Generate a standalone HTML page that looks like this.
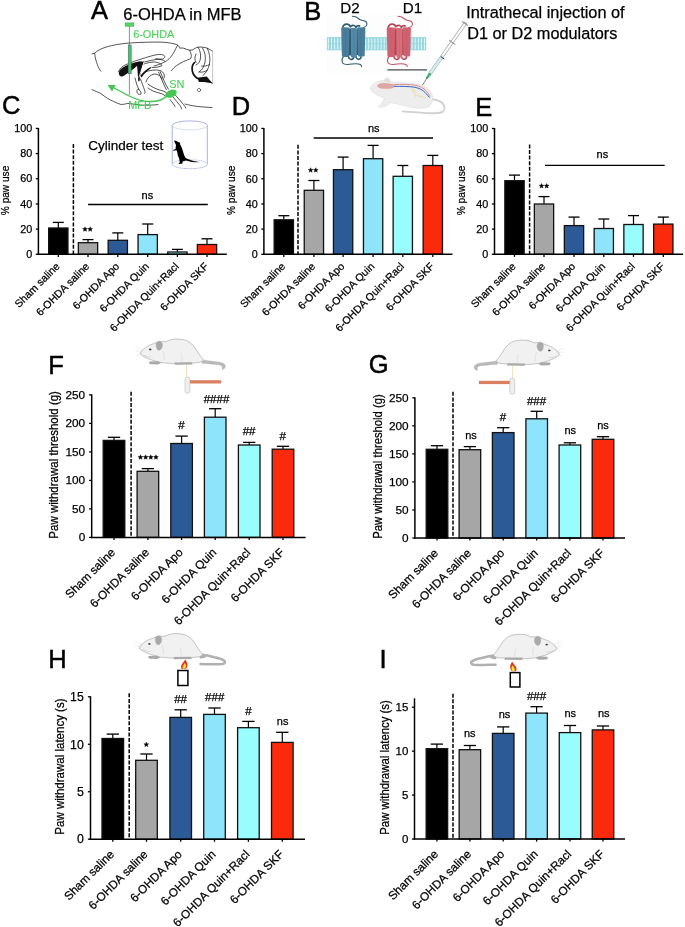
<!DOCTYPE html>
<html><head><meta charset="utf-8"><style>
html,body{margin:0;padding:0;background:#fff;overflow:hidden;}
svg{display:block;will-change:transform;}
text{font-family:"Liberation Sans", sans-serif;fill:#000;stroke:#000;stroke-width:0.25px;}
</style></head><body>
<svg width="685" height="927" viewBox="0 0 685 927">

<text x="90.90" y="19.00" font-size="25.5" style="stroke-width:0.5px">A</text>
<text x="304.30" y="19.80" font-size="25.5" style="stroke-width:0.5px">B</text>
<text x="2.10" y="113.95" font-size="25.5" style="stroke-width:0.5px">C</text>
<text x="231.80" y="114.70" font-size="25.5" style="stroke-width:0.5px">D</text>
<text x="475.30" y="115.80" font-size="25.5" style="stroke-width:0.5px">E</text>
<text x="48.30" y="373.50" font-size="25.5" style="stroke-width:0.5px">F</text>
<text x="368.80" y="373.05" font-size="25.5" style="stroke-width:0.5px">G</text>
<text x="48.20" y="668.40" font-size="25.5" style="stroke-width:0.5px">H</text>
<text x="379.45" y="668.40" font-size="25.5" style="stroke-width:0.5px">I</text>
<line x1="58.30" y1="228.00" x2="58.30" y2="222.40" stroke="#000" stroke-width="1.2"/>
<line x1="52.80" y1="222.40" x2="63.80" y2="222.40" stroke="#000" stroke-width="1.3"/>
<rect x="48.65" y="228.00" width="19.30" height="26.30" fill="#000000" stroke="#111" stroke-width="1.3"/>
<line x1="58.30" y1="254.30" x2="58.30" y2="256.90" stroke="#000" stroke-width="1.3"/>
<text x="60.30" y="267.00" transform="rotate(-45 60.30 267.00)" text-anchor="end" font-size="10.6">Sham saline</text>
<line x1="88.00" y1="242.70" x2="88.00" y2="239.60" stroke="#000" stroke-width="1.2"/>
<line x1="82.50" y1="239.60" x2="93.50" y2="239.60" stroke="#000" stroke-width="1.3"/>
<rect x="78.35" y="242.70" width="19.30" height="11.60" fill="#a6a6a6" stroke="#111" stroke-width="1.3"/>
<line x1="88.00" y1="254.30" x2="88.00" y2="256.90" stroke="#000" stroke-width="1.3"/>
<text x="90.00" y="267.00" transform="rotate(-45 90.00 267.00)" text-anchor="end" font-size="10.6">6-OHDA saline</text>
<line x1="117.80" y1="240.30" x2="117.80" y2="232.90" stroke="#000" stroke-width="1.2"/>
<line x1="112.30" y1="232.90" x2="123.30" y2="232.90" stroke="#000" stroke-width="1.3"/>
<rect x="108.15" y="240.30" width="19.30" height="14.00" fill="#2c5a96" stroke="#111" stroke-width="1.3"/>
<line x1="117.80" y1="254.30" x2="117.80" y2="256.90" stroke="#000" stroke-width="1.3"/>
<text x="119.80" y="267.00" transform="rotate(-45 119.80 267.00)" text-anchor="end" font-size="10.6">6-OHDA Apo</text>
<line x1="147.70" y1="234.60" x2="147.70" y2="224.00" stroke="#000" stroke-width="1.2"/>
<line x1="142.20" y1="224.00" x2="153.20" y2="224.00" stroke="#000" stroke-width="1.3"/>
<rect x="138.05" y="234.60" width="19.30" height="19.70" fill="#8ee4fb" stroke="#111" stroke-width="1.3"/>
<line x1="147.70" y1="254.30" x2="147.70" y2="256.90" stroke="#000" stroke-width="1.3"/>
<text x="149.70" y="267.00" transform="rotate(-45 149.70 267.00)" text-anchor="end" font-size="10.6">6-OHDA Quin</text>
<line x1="177.40" y1="252.00" x2="177.40" y2="249.40" stroke="#000" stroke-width="1.2"/>
<line x1="171.90" y1="249.40" x2="182.90" y2="249.40" stroke="#000" stroke-width="1.3"/>
<rect x="167.75" y="252.00" width="19.30" height="2.30" fill="#9afdfd" stroke="#111" stroke-width="1.3"/>
<line x1="177.40" y1="254.30" x2="177.40" y2="256.90" stroke="#000" stroke-width="1.3"/>
<text x="179.40" y="267.00" transform="rotate(-45 179.40 267.00)" text-anchor="end" font-size="10.6">6-OHDA Quin+Racl</text>
<line x1="207.00" y1="244.50" x2="207.00" y2="238.80" stroke="#000" stroke-width="1.2"/>
<line x1="201.50" y1="238.80" x2="212.50" y2="238.80" stroke="#000" stroke-width="1.3"/>
<rect x="197.35" y="244.50" width="19.30" height="9.80" fill="#fb2a0d" stroke="#111" stroke-width="1.3"/>
<line x1="207.00" y1="254.30" x2="207.00" y2="256.90" stroke="#000" stroke-width="1.3"/>
<text x="209.00" y="267.00" transform="rotate(-45 209.00 267.00)" text-anchor="end" font-size="10.6">6-OHDA SKF</text>
<line x1="38.40" y1="128.00" x2="38.40" y2="255.05" stroke="#000" stroke-width="1.5"/>
<line x1="37.65" y1="254.30" x2="226.80" y2="254.30" stroke="#000" stroke-width="1.5"/>
<line x1="35.80" y1="254.30" x2="38.40" y2="254.30" stroke="#000" stroke-width="1.3"/>
<text x="32.20" y="258.02" text-anchor="end" font-size="10.8">0</text>
<line x1="35.80" y1="229.12" x2="38.40" y2="229.12" stroke="#000" stroke-width="1.3"/>
<text x="32.20" y="232.84" text-anchor="end" font-size="10.8">20</text>
<line x1="35.80" y1="203.94" x2="38.40" y2="203.94" stroke="#000" stroke-width="1.3"/>
<text x="32.20" y="207.66" text-anchor="end" font-size="10.8">40</text>
<line x1="35.80" y1="178.76" x2="38.40" y2="178.76" stroke="#000" stroke-width="1.3"/>
<text x="32.20" y="182.48" text-anchor="end" font-size="10.8">60</text>
<line x1="35.80" y1="153.58" x2="38.40" y2="153.58" stroke="#000" stroke-width="1.3"/>
<text x="32.20" y="157.30" text-anchor="end" font-size="10.8">80</text>
<line x1="35.80" y1="128.40" x2="38.40" y2="128.40" stroke="#000" stroke-width="1.3"/>
<text x="32.20" y="132.12" text-anchor="end" font-size="10.8">100</text>
<line x1="73.40" y1="144.00" x2="73.40" y2="254.30" stroke="#000" stroke-width="1.5" stroke-dasharray="4,1.6"/>
<text x="9.10" y="190.45" transform="rotate(-90 9.10 190.45)" text-anchor="middle" font-size="10.8" textLength="49.4" lengthAdjust="spacingAndGlyphs">% paw use</text>
<polygon points="85.02,226.75 85.70,228.37 87.45,228.51 86.12,229.66 86.52,231.36 85.02,230.45 83.53,231.36 83.93,229.66 82.60,228.51 84.35,228.37" fill="#000" stroke="#000" stroke-width="0.35" stroke-linejoin="round"/>
<polygon points="90.17,226.75 90.85,228.37 92.60,228.51 91.27,229.66 91.67,231.36 90.17,230.45 88.68,231.36 89.08,229.66 87.75,228.51 89.50,228.37" fill="#000" stroke="#000" stroke-width="0.35" stroke-linejoin="round"/>
<text x="147.40" y="198.60" text-anchor="middle" font-size="11">ns</text>
<line x1="88.10" y1="204.50" x2="207.80" y2="204.50" stroke="#000" stroke-width="1.3"/>
<line x1="283.80" y1="219.80" x2="283.80" y2="215.70" stroke="#000" stroke-width="1.2"/>
<line x1="278.30" y1="215.70" x2="289.30" y2="215.70" stroke="#000" stroke-width="1.3"/>
<rect x="274.15" y="219.80" width="19.30" height="34.50" fill="#000000" stroke="#111" stroke-width="1.3"/>
<line x1="283.80" y1="254.30" x2="283.80" y2="256.90" stroke="#000" stroke-width="1.3"/>
<text x="285.80" y="267.00" transform="rotate(-45 285.80 267.00)" text-anchor="end" font-size="10.6">Sham saline</text>
<line x1="313.90" y1="190.30" x2="313.90" y2="180.50" stroke="#000" stroke-width="1.2"/>
<line x1="308.40" y1="180.50" x2="319.40" y2="180.50" stroke="#000" stroke-width="1.3"/>
<rect x="304.25" y="190.30" width="19.30" height="64.00" fill="#a6a6a6" stroke="#111" stroke-width="1.3"/>
<line x1="313.90" y1="254.30" x2="313.90" y2="256.90" stroke="#000" stroke-width="1.3"/>
<text x="315.90" y="267.00" transform="rotate(-45 315.90 267.00)" text-anchor="end" font-size="10.6">6-OHDA saline</text>
<line x1="343.10" y1="169.70" x2="343.10" y2="157.10" stroke="#000" stroke-width="1.2"/>
<line x1="337.60" y1="157.10" x2="348.60" y2="157.10" stroke="#000" stroke-width="1.3"/>
<rect x="333.45" y="169.70" width="19.30" height="84.60" fill="#2c5a96" stroke="#111" stroke-width="1.3"/>
<line x1="343.10" y1="254.30" x2="343.10" y2="256.90" stroke="#000" stroke-width="1.3"/>
<text x="345.10" y="267.00" transform="rotate(-45 345.10 267.00)" text-anchor="end" font-size="10.6">6-OHDA Apo</text>
<line x1="373.10" y1="158.70" x2="373.10" y2="145.40" stroke="#000" stroke-width="1.2"/>
<line x1="367.60" y1="145.40" x2="378.60" y2="145.40" stroke="#000" stroke-width="1.3"/>
<rect x="363.45" y="158.70" width="19.30" height="95.60" fill="#8ee4fb" stroke="#111" stroke-width="1.3"/>
<line x1="373.10" y1="254.30" x2="373.10" y2="256.90" stroke="#000" stroke-width="1.3"/>
<text x="375.10" y="267.00" transform="rotate(-45 375.10 267.00)" text-anchor="end" font-size="10.6">6-OHDA Quin</text>
<line x1="402.80" y1="176.30" x2="402.80" y2="165.50" stroke="#000" stroke-width="1.2"/>
<line x1="397.30" y1="165.50" x2="408.30" y2="165.50" stroke="#000" stroke-width="1.3"/>
<rect x="393.15" y="176.30" width="19.30" height="78.00" fill="#9afdfd" stroke="#111" stroke-width="1.3"/>
<line x1="402.80" y1="254.30" x2="402.80" y2="256.90" stroke="#000" stroke-width="1.3"/>
<text x="404.80" y="267.00" transform="rotate(-45 404.80 267.00)" text-anchor="end" font-size="10.6">6-OHDA Quin+Racl</text>
<line x1="432.80" y1="165.50" x2="432.80" y2="155.40" stroke="#000" stroke-width="1.2"/>
<line x1="427.30" y1="155.40" x2="438.30" y2="155.40" stroke="#000" stroke-width="1.3"/>
<rect x="423.15" y="165.50" width="19.30" height="88.80" fill="#fb2a0d" stroke="#111" stroke-width="1.3"/>
<line x1="432.80" y1="254.30" x2="432.80" y2="256.90" stroke="#000" stroke-width="1.3"/>
<text x="434.80" y="267.00" transform="rotate(-45 434.80 267.00)" text-anchor="end" font-size="10.6">6-OHDA SKF</text>
<line x1="263.90" y1="128.00" x2="263.90" y2="255.05" stroke="#000" stroke-width="1.5"/>
<line x1="263.15" y1="254.30" x2="452.40" y2="254.30" stroke="#000" stroke-width="1.5"/>
<line x1="261.30" y1="254.30" x2="263.90" y2="254.30" stroke="#000" stroke-width="1.3"/>
<text x="257.70" y="258.02" text-anchor="end" font-size="10.8">0</text>
<line x1="261.30" y1="229.13" x2="263.90" y2="229.13" stroke="#000" stroke-width="1.3"/>
<text x="257.70" y="232.85" text-anchor="end" font-size="10.8">20</text>
<line x1="261.30" y1="203.96" x2="263.90" y2="203.96" stroke="#000" stroke-width="1.3"/>
<text x="257.70" y="207.68" text-anchor="end" font-size="10.8">40</text>
<line x1="261.30" y1="178.79" x2="263.90" y2="178.79" stroke="#000" stroke-width="1.3"/>
<text x="257.70" y="182.51" text-anchor="end" font-size="10.8">60</text>
<line x1="261.30" y1="153.62" x2="263.90" y2="153.62" stroke="#000" stroke-width="1.3"/>
<text x="257.70" y="157.34" text-anchor="end" font-size="10.8">80</text>
<line x1="261.30" y1="128.45" x2="263.90" y2="128.45" stroke="#000" stroke-width="1.3"/>
<text x="257.70" y="132.17" text-anchor="end" font-size="10.8">100</text>
<line x1="298.00" y1="144.80" x2="298.00" y2="254.30" stroke="#000" stroke-width="1.5" stroke-dasharray="4,1.6"/>
<text x="235.10" y="190.30" transform="rotate(-90 235.10 190.30)" text-anchor="middle" font-size="10.8" textLength="49.4" lengthAdjust="spacingAndGlyphs">% paw use</text>
<polygon points="310.62,167.65 311.30,169.27 313.05,169.41 311.72,170.56 312.12,172.26 310.62,171.35 309.13,172.26 309.53,170.56 308.20,169.41 309.95,169.27" fill="#000" stroke="#000" stroke-width="0.35" stroke-linejoin="round"/>
<polygon points="315.77,167.65 316.45,169.27 318.20,169.41 316.87,170.56 317.27,172.26 315.77,171.35 314.28,172.26 314.68,170.56 313.35,169.41 315.10,169.27" fill="#000" stroke="#000" stroke-width="0.35" stroke-linejoin="round"/>
<text x="373.70" y="131.60" text-anchor="middle" font-size="11">ns</text>
<line x1="313.70" y1="138.00" x2="433.00" y2="138.00" stroke="#000" stroke-width="1.3"/>
<line x1="514.50" y1="180.70" x2="514.50" y2="175.10" stroke="#000" stroke-width="1.2"/>
<line x1="509.00" y1="175.10" x2="520.00" y2="175.10" stroke="#000" stroke-width="1.3"/>
<rect x="504.85" y="180.70" width="19.30" height="73.60" fill="#000000" stroke="#111" stroke-width="1.3"/>
<line x1="514.50" y1="254.30" x2="514.50" y2="256.90" stroke="#000" stroke-width="1.3"/>
<text x="516.50" y="267.00" transform="rotate(-45 516.50 267.00)" text-anchor="end" font-size="10.6">Sham saline</text>
<line x1="544.00" y1="204.00" x2="544.00" y2="196.60" stroke="#000" stroke-width="1.2"/>
<line x1="538.50" y1="196.60" x2="549.50" y2="196.60" stroke="#000" stroke-width="1.3"/>
<rect x="534.35" y="204.00" width="19.30" height="50.30" fill="#a6a6a6" stroke="#111" stroke-width="1.3"/>
<line x1="544.00" y1="254.30" x2="544.00" y2="256.90" stroke="#000" stroke-width="1.3"/>
<text x="546.00" y="267.00" transform="rotate(-45 546.00 267.00)" text-anchor="end" font-size="10.6">6-OHDA saline</text>
<line x1="574.00" y1="225.60" x2="574.00" y2="217.10" stroke="#000" stroke-width="1.2"/>
<line x1="568.50" y1="217.10" x2="579.50" y2="217.10" stroke="#000" stroke-width="1.3"/>
<rect x="564.35" y="225.60" width="19.30" height="28.70" fill="#2c5a96" stroke="#111" stroke-width="1.3"/>
<line x1="574.00" y1="254.30" x2="574.00" y2="256.90" stroke="#000" stroke-width="1.3"/>
<text x="576.00" y="267.00" transform="rotate(-45 576.00 267.00)" text-anchor="end" font-size="10.6">6-OHDA Apo</text>
<line x1="603.80" y1="228.50" x2="603.80" y2="219.00" stroke="#000" stroke-width="1.2"/>
<line x1="598.30" y1="219.00" x2="609.30" y2="219.00" stroke="#000" stroke-width="1.3"/>
<rect x="594.15" y="228.50" width="19.30" height="25.80" fill="#8ee4fb" stroke="#111" stroke-width="1.3"/>
<line x1="603.80" y1="254.30" x2="603.80" y2="256.90" stroke="#000" stroke-width="1.3"/>
<text x="605.80" y="267.00" transform="rotate(-45 605.80 267.00)" text-anchor="end" font-size="10.6">6-OHDA Quin</text>
<line x1="633.50" y1="224.50" x2="633.50" y2="215.60" stroke="#000" stroke-width="1.2"/>
<line x1="628.00" y1="215.60" x2="639.00" y2="215.60" stroke="#000" stroke-width="1.3"/>
<rect x="623.85" y="224.50" width="19.30" height="29.80" fill="#9afdfd" stroke="#111" stroke-width="1.3"/>
<line x1="633.50" y1="254.30" x2="633.50" y2="256.90" stroke="#000" stroke-width="1.3"/>
<text x="635.50" y="267.00" transform="rotate(-45 635.50 267.00)" text-anchor="end" font-size="10.6">6-OHDA Quin+Racl</text>
<line x1="663.30" y1="224.10" x2="663.30" y2="217.10" stroke="#000" stroke-width="1.2"/>
<line x1="657.80" y1="217.10" x2="668.80" y2="217.10" stroke="#000" stroke-width="1.3"/>
<rect x="653.65" y="224.10" width="19.30" height="30.20" fill="#fb2a0d" stroke="#111" stroke-width="1.3"/>
<line x1="663.30" y1="254.30" x2="663.30" y2="256.90" stroke="#000" stroke-width="1.3"/>
<text x="665.30" y="267.00" transform="rotate(-45 665.30 267.00)" text-anchor="end" font-size="10.6">6-OHDA SKF</text>
<line x1="494.50" y1="128.00" x2="494.50" y2="255.05" stroke="#000" stroke-width="1.5"/>
<line x1="493.75" y1="254.30" x2="683.10" y2="254.30" stroke="#000" stroke-width="1.5"/>
<line x1="491.90" y1="254.30" x2="494.50" y2="254.30" stroke="#000" stroke-width="1.3"/>
<text x="488.30" y="258.02" text-anchor="end" font-size="10.8">0</text>
<line x1="491.90" y1="229.14" x2="494.50" y2="229.14" stroke="#000" stroke-width="1.3"/>
<text x="488.30" y="232.86" text-anchor="end" font-size="10.8">20</text>
<line x1="491.90" y1="203.98" x2="494.50" y2="203.98" stroke="#000" stroke-width="1.3"/>
<text x="488.30" y="207.70" text-anchor="end" font-size="10.8">40</text>
<line x1="491.90" y1="178.82" x2="494.50" y2="178.82" stroke="#000" stroke-width="1.3"/>
<text x="488.30" y="182.54" text-anchor="end" font-size="10.8">60</text>
<line x1="491.90" y1="153.66" x2="494.50" y2="153.66" stroke="#000" stroke-width="1.3"/>
<text x="488.30" y="157.38" text-anchor="end" font-size="10.8">80</text>
<line x1="491.90" y1="128.50" x2="494.50" y2="128.50" stroke="#000" stroke-width="1.3"/>
<text x="488.30" y="132.22" text-anchor="end" font-size="10.8">100</text>
<line x1="529.60" y1="144.40" x2="529.60" y2="254.30" stroke="#000" stroke-width="1.5" stroke-dasharray="4,1.6"/>
<text x="465.10" y="190.35" transform="rotate(-90 465.10 190.35)" text-anchor="middle" font-size="10.8" textLength="49.8" lengthAdjust="spacingAndGlyphs">% paw use</text>
<polygon points="541.52,183.45 542.20,185.07 543.95,185.21 542.62,186.36 543.02,188.06 541.52,187.15 540.03,188.06 540.43,186.36 539.10,185.21 540.85,185.07" fill="#000" stroke="#000" stroke-width="0.35" stroke-linejoin="round"/>
<polygon points="546.68,183.45 547.35,185.07 549.10,185.21 547.77,186.36 548.17,188.06 546.68,187.15 545.18,188.06 545.58,186.36 544.25,185.21 546.00,185.07" fill="#000" stroke="#000" stroke-width="0.35" stroke-linejoin="round"/>
<text x="602.40" y="158.30" text-anchor="middle" font-size="11">ns</text>
<line x1="545.00" y1="165.30" x2="664.70" y2="165.30" stroke="#000" stroke-width="1.3"/>
<line x1="114.00" y1="440.40" x2="114.00" y2="437.30" stroke="#000" stroke-width="1.2"/>
<line x1="107.84" y1="437.30" x2="120.16" y2="437.30" stroke="#000" stroke-width="1.3"/>
<rect x="103.20" y="440.40" width="21.60" height="97.00" fill="#000000" stroke="#111" stroke-width="1.3"/>
<line x1="114.00" y1="537.40" x2="114.00" y2="540.00" stroke="#000" stroke-width="1.3"/>
<text x="116.00" y="553.20" transform="rotate(-45 116.00 553.20)" text-anchor="end" font-size="11.8">Sham saline</text>
<line x1="147.90" y1="471.30" x2="147.90" y2="468.60" stroke="#000" stroke-width="1.2"/>
<line x1="141.74" y1="468.60" x2="154.06" y2="468.60" stroke="#000" stroke-width="1.3"/>
<rect x="137.10" y="471.30" width="21.60" height="66.10" fill="#a6a6a6" stroke="#111" stroke-width="1.3"/>
<line x1="147.90" y1="537.40" x2="147.90" y2="540.00" stroke="#000" stroke-width="1.3"/>
<text x="149.90" y="553.20" transform="rotate(-45 149.90 553.20)" text-anchor="end" font-size="11.8">6-OHDA saline</text>
<line x1="181.60" y1="443.50" x2="181.60" y2="436.10" stroke="#000" stroke-width="1.2"/>
<line x1="175.44" y1="436.10" x2="187.76" y2="436.10" stroke="#000" stroke-width="1.3"/>
<rect x="170.80" y="443.50" width="21.60" height="93.90" fill="#2c5a96" stroke="#111" stroke-width="1.3"/>
<line x1="181.60" y1="537.40" x2="181.60" y2="540.00" stroke="#000" stroke-width="1.3"/>
<text x="183.60" y="553.20" transform="rotate(-45 183.60 553.20)" text-anchor="end" font-size="11.8">6-OHDA Apo</text>
<line x1="215.20" y1="417.20" x2="215.20" y2="408.70" stroke="#000" stroke-width="1.2"/>
<line x1="209.04" y1="408.70" x2="221.36" y2="408.70" stroke="#000" stroke-width="1.3"/>
<rect x="204.40" y="417.20" width="21.60" height="120.20" fill="#8ee4fb" stroke="#111" stroke-width="1.3"/>
<line x1="215.20" y1="537.40" x2="215.20" y2="540.00" stroke="#000" stroke-width="1.3"/>
<text x="217.20" y="553.20" transform="rotate(-45 217.20 553.20)" text-anchor="end" font-size="11.8">6-OHDA Quin</text>
<line x1="249.20" y1="445.00" x2="249.20" y2="442.40" stroke="#000" stroke-width="1.2"/>
<line x1="243.04" y1="442.40" x2="255.36" y2="442.40" stroke="#000" stroke-width="1.3"/>
<rect x="238.40" y="445.00" width="21.60" height="92.40" fill="#9afdfd" stroke="#111" stroke-width="1.3"/>
<line x1="249.20" y1="537.40" x2="249.20" y2="540.00" stroke="#000" stroke-width="1.3"/>
<text x="251.20" y="553.20" transform="rotate(-45 251.20 553.20)" text-anchor="end" font-size="11.8">6-OHDA Quin+Racl</text>
<line x1="283.00" y1="449.20" x2="283.00" y2="446.30" stroke="#000" stroke-width="1.2"/>
<line x1="276.84" y1="446.30" x2="289.16" y2="446.30" stroke="#000" stroke-width="1.3"/>
<rect x="272.20" y="449.20" width="21.60" height="88.20" fill="#fb2a0d" stroke="#111" stroke-width="1.3"/>
<line x1="283.00" y1="537.40" x2="283.00" y2="540.00" stroke="#000" stroke-width="1.3"/>
<text x="285.00" y="553.20" transform="rotate(-45 285.00 553.20)" text-anchor="end" font-size="11.8">6-OHDA SKF</text>
<line x1="91.70" y1="394.30" x2="91.70" y2="538.15" stroke="#000" stroke-width="1.5"/>
<line x1="90.95" y1="537.40" x2="305.60" y2="537.40" stroke="#000" stroke-width="1.5"/>
<line x1="89.10" y1="537.40" x2="91.70" y2="537.40" stroke="#000" stroke-width="1.3"/>
<text x="85.20" y="541.46" text-anchor="end" font-size="11.8">0</text>
<line x1="89.10" y1="508.90" x2="91.70" y2="508.90" stroke="#000" stroke-width="1.3"/>
<text x="85.20" y="512.96" text-anchor="end" font-size="11.8">50</text>
<line x1="89.10" y1="480.40" x2="91.70" y2="480.40" stroke="#000" stroke-width="1.3"/>
<text x="85.20" y="484.46" text-anchor="end" font-size="11.8">100</text>
<line x1="89.10" y1="451.90" x2="91.70" y2="451.90" stroke="#000" stroke-width="1.3"/>
<text x="85.20" y="455.96" text-anchor="end" font-size="11.8">150</text>
<line x1="89.10" y1="423.40" x2="91.70" y2="423.40" stroke="#000" stroke-width="1.3"/>
<text x="85.20" y="427.46" text-anchor="end" font-size="11.8">200</text>
<line x1="89.10" y1="394.90" x2="91.70" y2="394.90" stroke="#000" stroke-width="1.3"/>
<text x="85.20" y="398.96" text-anchor="end" font-size="11.8">250</text>
<line x1="131.10" y1="391.80" x2="131.10" y2="537.40" stroke="#000" stroke-width="1.5" stroke-dasharray="4,1.6"/>
<text x="58.10" y="464.85" transform="rotate(-90 58.10 464.85)" text-anchor="middle" font-size="12.2" textLength="147.6" lengthAdjust="spacingAndGlyphs">Paw withdrawal threshold (g)</text>
<polygon points="140.47,454.75 141.15,456.37 142.90,456.51 141.57,457.66 141.97,459.36 140.47,458.45 138.98,459.36 139.38,457.66 138.05,456.51 139.80,456.37" fill="#000" stroke="#000" stroke-width="0.35" stroke-linejoin="round"/>
<polygon points="145.62,454.75 146.30,456.37 148.05,456.51 146.72,457.66 147.12,459.36 145.62,458.45 144.13,459.36 144.53,457.66 143.20,456.51 144.95,456.37" fill="#000" stroke="#000" stroke-width="0.35" stroke-linejoin="round"/>
<polygon points="150.77,454.75 151.45,456.37 153.20,456.51 151.87,457.66 152.27,459.36 150.77,458.45 149.28,459.36 149.68,457.66 148.35,456.51 150.10,456.37" fill="#000" stroke="#000" stroke-width="0.35" stroke-linejoin="round"/>
<polygon points="155.92,454.75 156.60,456.37 158.35,456.51 157.02,457.66 157.42,459.36 155.92,458.45 154.43,459.36 154.83,457.66 153.50,456.51 155.25,456.37" fill="#000" stroke="#000" stroke-width="0.35" stroke-linejoin="round"/>
<text x="181.50" y="428.80" text-anchor="middle" font-size="11.5">#</text>
<text x="216.50" y="403.00" text-anchor="middle" font-size="11.5">####</text>
<text x="249.10" y="435.40" text-anchor="middle" font-size="11.5">##</text>
<text x="282.60" y="440.20" text-anchor="middle" font-size="11.5">#</text>
<line x1="437.00" y1="449.30" x2="437.00" y2="445.70" stroke="#000" stroke-width="1.2"/>
<line x1="430.84" y1="445.70" x2="443.16" y2="445.70" stroke="#000" stroke-width="1.3"/>
<rect x="426.20" y="449.30" width="21.60" height="88.70" fill="#000000" stroke="#111" stroke-width="1.3"/>
<line x1="437.00" y1="538.00" x2="437.00" y2="540.60" stroke="#000" stroke-width="1.3"/>
<text x="439.00" y="553.80" transform="rotate(-45 439.00 553.80)" text-anchor="end" font-size="11.8">Sham saline</text>
<line x1="469.90" y1="449.70" x2="469.90" y2="446.60" stroke="#000" stroke-width="1.2"/>
<line x1="463.74" y1="446.60" x2="476.06" y2="446.60" stroke="#000" stroke-width="1.3"/>
<rect x="459.10" y="449.70" width="21.60" height="88.30" fill="#a6a6a6" stroke="#111" stroke-width="1.3"/>
<line x1="469.90" y1="538.00" x2="469.90" y2="540.60" stroke="#000" stroke-width="1.3"/>
<text x="471.90" y="553.80" transform="rotate(-45 471.90 553.80)" text-anchor="end" font-size="11.8">6-OHDA saline</text>
<line x1="503.20" y1="432.60" x2="503.20" y2="427.70" stroke="#000" stroke-width="1.2"/>
<line x1="497.04" y1="427.70" x2="509.36" y2="427.70" stroke="#000" stroke-width="1.3"/>
<rect x="492.40" y="432.60" width="21.60" height="105.40" fill="#2c5a96" stroke="#111" stroke-width="1.3"/>
<line x1="503.20" y1="538.00" x2="503.20" y2="540.60" stroke="#000" stroke-width="1.3"/>
<text x="505.20" y="553.80" transform="rotate(-45 505.20 553.80)" text-anchor="end" font-size="11.8">6-OHDA Apo</text>
<line x1="536.70" y1="418.80" x2="536.70" y2="411.30" stroke="#000" stroke-width="1.2"/>
<line x1="530.54" y1="411.30" x2="542.86" y2="411.30" stroke="#000" stroke-width="1.3"/>
<rect x="525.90" y="418.80" width="21.60" height="119.20" fill="#8ee4fb" stroke="#111" stroke-width="1.3"/>
<line x1="536.70" y1="538.00" x2="536.70" y2="540.60" stroke="#000" stroke-width="1.3"/>
<text x="538.70" y="553.80" transform="rotate(-45 538.70 553.80)" text-anchor="end" font-size="11.8">6-OHDA Quin</text>
<line x1="569.90" y1="445.00" x2="569.90" y2="442.80" stroke="#000" stroke-width="1.2"/>
<line x1="563.74" y1="442.80" x2="576.06" y2="442.80" stroke="#000" stroke-width="1.3"/>
<rect x="559.10" y="445.00" width="21.60" height="93.00" fill="#9afdfd" stroke="#111" stroke-width="1.3"/>
<line x1="569.90" y1="538.00" x2="569.90" y2="540.60" stroke="#000" stroke-width="1.3"/>
<text x="571.90" y="553.80" transform="rotate(-45 571.90 553.80)" text-anchor="end" font-size="11.8">6-OHDA Quin+Racl</text>
<line x1="603.00" y1="439.30" x2="603.00" y2="436.70" stroke="#000" stroke-width="1.2"/>
<line x1="596.84" y1="436.70" x2="609.16" y2="436.70" stroke="#000" stroke-width="1.3"/>
<rect x="592.20" y="439.30" width="21.60" height="98.70" fill="#fb2a0d" stroke="#111" stroke-width="1.3"/>
<line x1="603.00" y1="538.00" x2="603.00" y2="540.60" stroke="#000" stroke-width="1.3"/>
<text x="605.00" y="553.80" transform="rotate(-45 605.00 553.80)" text-anchor="end" font-size="11.8">6-OHDA SKF</text>
<line x1="414.90" y1="397.20" x2="414.90" y2="538.75" stroke="#000" stroke-width="1.5"/>
<line x1="414.15" y1="538.00" x2="625.00" y2="538.00" stroke="#000" stroke-width="1.5"/>
<line x1="412.30" y1="538.00" x2="414.90" y2="538.00" stroke="#000" stroke-width="1.3"/>
<text x="408.60" y="542.06" text-anchor="end" font-size="11.8">0</text>
<line x1="412.30" y1="509.96" x2="414.90" y2="509.96" stroke="#000" stroke-width="1.3"/>
<text x="408.60" y="514.02" text-anchor="end" font-size="11.8">50</text>
<line x1="412.30" y1="481.92" x2="414.90" y2="481.92" stroke="#000" stroke-width="1.3"/>
<text x="408.60" y="485.98" text-anchor="end" font-size="11.8">100</text>
<line x1="412.30" y1="453.88" x2="414.90" y2="453.88" stroke="#000" stroke-width="1.3"/>
<text x="408.60" y="457.94" text-anchor="end" font-size="11.8">150</text>
<line x1="412.30" y1="425.84" x2="414.90" y2="425.84" stroke="#000" stroke-width="1.3"/>
<text x="408.60" y="429.90" text-anchor="end" font-size="11.8">200</text>
<line x1="412.30" y1="397.80" x2="414.90" y2="397.80" stroke="#000" stroke-width="1.3"/>
<text x="408.60" y="401.86" text-anchor="end" font-size="11.8">250</text>
<line x1="453.00" y1="391.80" x2="453.00" y2="538.00" stroke="#000" stroke-width="1.5" stroke-dasharray="4,1.6"/>
<text x="381.80" y="466.55" transform="rotate(-90 381.80 466.55)" text-anchor="middle" font-size="12.3" textLength="144.6" lengthAdjust="spacingAndGlyphs">Paw withdrawal threshold (g)</text>
<text x="471.00" y="438.90" text-anchor="middle" font-size="11">ns</text>
<text x="503.00" y="420.50" text-anchor="middle" font-size="11.5">#</text>
<text x="536.50" y="405.20" text-anchor="middle" font-size="11.5">###</text>
<text x="570.20" y="434.40" text-anchor="middle" font-size="11">ns</text>
<text x="603.00" y="429.30" text-anchor="middle" font-size="11">ns</text>
<line x1="112.80" y1="738.50" x2="112.80" y2="734.10" stroke="#000" stroke-width="1.2"/>
<line x1="106.64" y1="734.10" x2="118.96" y2="734.10" stroke="#000" stroke-width="1.3"/>
<rect x="102.00" y="738.50" width="21.60" height="100.70" fill="#000000" stroke="#111" stroke-width="1.3"/>
<line x1="112.80" y1="839.20" x2="112.80" y2="841.80" stroke="#000" stroke-width="1.3"/>
<text x="114.80" y="855.00" transform="rotate(-45 114.80 855.00)" text-anchor="end" font-size="11.8">Sham saline</text>
<line x1="146.50" y1="760.30" x2="146.50" y2="754.00" stroke="#000" stroke-width="1.2"/>
<line x1="140.34" y1="754.00" x2="152.66" y2="754.00" stroke="#000" stroke-width="1.3"/>
<rect x="135.70" y="760.30" width="21.60" height="78.90" fill="#a6a6a6" stroke="#111" stroke-width="1.3"/>
<line x1="146.50" y1="839.20" x2="146.50" y2="841.80" stroke="#000" stroke-width="1.3"/>
<text x="148.50" y="855.00" transform="rotate(-45 148.50 855.00)" text-anchor="end" font-size="11.8">6-OHDA saline</text>
<line x1="180.70" y1="717.40" x2="180.70" y2="709.80" stroke="#000" stroke-width="1.2"/>
<line x1="174.54" y1="709.80" x2="186.86" y2="709.80" stroke="#000" stroke-width="1.3"/>
<rect x="169.90" y="717.40" width="21.60" height="121.80" fill="#2c5a96" stroke="#111" stroke-width="1.3"/>
<line x1="180.70" y1="839.20" x2="180.70" y2="841.80" stroke="#000" stroke-width="1.3"/>
<text x="182.70" y="855.00" transform="rotate(-45 182.70 855.00)" text-anchor="end" font-size="11.8">6-OHDA Apo</text>
<line x1="214.50" y1="714.40" x2="214.50" y2="708.00" stroke="#000" stroke-width="1.2"/>
<line x1="208.34" y1="708.00" x2="220.66" y2="708.00" stroke="#000" stroke-width="1.3"/>
<rect x="203.70" y="714.40" width="21.60" height="124.80" fill="#8ee4fb" stroke="#111" stroke-width="1.3"/>
<line x1="214.50" y1="839.20" x2="214.50" y2="841.80" stroke="#000" stroke-width="1.3"/>
<text x="216.50" y="855.00" transform="rotate(-45 216.50 855.00)" text-anchor="end" font-size="11.8">6-OHDA Quin</text>
<line x1="248.40" y1="727.70" x2="248.40" y2="721.40" stroke="#000" stroke-width="1.2"/>
<line x1="242.24" y1="721.40" x2="254.56" y2="721.40" stroke="#000" stroke-width="1.3"/>
<rect x="237.60" y="727.70" width="21.60" height="111.50" fill="#9afdfd" stroke="#111" stroke-width="1.3"/>
<line x1="248.40" y1="839.20" x2="248.40" y2="841.80" stroke="#000" stroke-width="1.3"/>
<text x="250.40" y="855.00" transform="rotate(-45 250.40 855.00)" text-anchor="end" font-size="11.8">6-OHDA Quin+Racl</text>
<line x1="282.30" y1="742.40" x2="282.30" y2="732.30" stroke="#000" stroke-width="1.2"/>
<line x1="276.14" y1="732.30" x2="288.46" y2="732.30" stroke="#000" stroke-width="1.3"/>
<rect x="271.50" y="742.40" width="21.60" height="96.80" fill="#fb2a0d" stroke="#111" stroke-width="1.3"/>
<line x1="282.30" y1="839.20" x2="282.30" y2="841.80" stroke="#000" stroke-width="1.3"/>
<text x="284.30" y="855.00" transform="rotate(-45 284.30 855.00)" text-anchor="end" font-size="11.8">6-OHDA SKF</text>
<line x1="90.50" y1="696.20" x2="90.50" y2="839.95" stroke="#000" stroke-width="1.5"/>
<line x1="89.75" y1="839.20" x2="305.00" y2="839.20" stroke="#000" stroke-width="1.5"/>
<line x1="87.90" y1="839.20" x2="90.50" y2="839.20" stroke="#000" stroke-width="1.3"/>
<text x="83.80" y="843.43" text-anchor="end" font-size="12.3">0</text>
<line x1="87.90" y1="791.73" x2="90.50" y2="791.73" stroke="#000" stroke-width="1.3"/>
<text x="83.80" y="795.96" text-anchor="end" font-size="12.3">5</text>
<line x1="87.90" y1="744.27" x2="90.50" y2="744.27" stroke="#000" stroke-width="1.3"/>
<text x="83.80" y="748.50" text-anchor="end" font-size="12.3">10</text>
<line x1="87.90" y1="696.80" x2="90.50" y2="696.80" stroke="#000" stroke-width="1.3"/>
<text x="83.80" y="701.03" text-anchor="end" font-size="12.3">15</text>
<line x1="129.20" y1="693.30" x2="129.20" y2="839.20" stroke="#000" stroke-width="1.5" stroke-dasharray="4,1.6"/>
<text x="64.00" y="766.60" transform="rotate(-90 64.00 766.60)" text-anchor="middle" font-size="12.4" textLength="136.2" lengthAdjust="spacingAndGlyphs">Paw withdrawal latency (s)</text>
<polygon points="146.30,742.05 146.98,743.67 148.73,743.81 147.39,744.96 147.80,746.66 146.30,745.75 144.80,746.66 145.21,744.96 143.87,743.81 145.62,743.67" fill="#000" stroke="#000" stroke-width="0.35" stroke-linejoin="round"/>
<text x="180.60" y="703.00" text-anchor="middle" font-size="11.5">##</text>
<text x="214.70" y="700.80" text-anchor="middle" font-size="11.5">###</text>
<text x="248.50" y="715.00" text-anchor="middle" font-size="11.5">#</text>
<text x="282.60" y="724.90" text-anchor="middle" font-size="11">ns</text>
<line x1="436.90" y1="748.70" x2="436.90" y2="744.10" stroke="#000" stroke-width="1.2"/>
<line x1="430.77" y1="744.10" x2="443.03" y2="744.10" stroke="#000" stroke-width="1.3"/>
<rect x="426.15" y="748.70" width="21.50" height="90.30" fill="#000000" stroke="#111" stroke-width="1.3"/>
<line x1="436.90" y1="839.00" x2="436.90" y2="841.60" stroke="#000" stroke-width="1.3"/>
<text x="438.90" y="854.80" transform="rotate(-45 438.90 854.80)" text-anchor="end" font-size="11.8">Sham saline</text>
<line x1="469.90" y1="749.70" x2="469.90" y2="745.50" stroke="#000" stroke-width="1.2"/>
<line x1="463.77" y1="745.50" x2="476.03" y2="745.50" stroke="#000" stroke-width="1.3"/>
<rect x="459.15" y="749.70" width="21.50" height="89.30" fill="#a6a6a6" stroke="#111" stroke-width="1.3"/>
<line x1="469.90" y1="839.00" x2="469.90" y2="841.60" stroke="#000" stroke-width="1.3"/>
<text x="471.90" y="854.80" transform="rotate(-45 471.90 854.80)" text-anchor="end" font-size="11.8">6-OHDA saline</text>
<line x1="503.20" y1="733.40" x2="503.20" y2="726.90" stroke="#000" stroke-width="1.2"/>
<line x1="497.07" y1="726.90" x2="509.33" y2="726.90" stroke="#000" stroke-width="1.3"/>
<rect x="492.45" y="733.40" width="21.50" height="105.60" fill="#2c5a96" stroke="#111" stroke-width="1.3"/>
<line x1="503.20" y1="839.00" x2="503.20" y2="841.60" stroke="#000" stroke-width="1.3"/>
<text x="505.20" y="854.80" transform="rotate(-45 505.20 854.80)" text-anchor="end" font-size="11.8">6-OHDA Apo</text>
<line x1="536.60" y1="713.10" x2="536.60" y2="706.70" stroke="#000" stroke-width="1.2"/>
<line x1="530.47" y1="706.70" x2="542.73" y2="706.70" stroke="#000" stroke-width="1.3"/>
<rect x="525.85" y="713.10" width="21.50" height="125.90" fill="#8ee4fb" stroke="#111" stroke-width="1.3"/>
<line x1="536.60" y1="839.00" x2="536.60" y2="841.60" stroke="#000" stroke-width="1.3"/>
<text x="538.60" y="854.80" transform="rotate(-45 538.60 854.80)" text-anchor="end" font-size="11.8">6-OHDA Quin</text>
<line x1="570.00" y1="732.60" x2="570.00" y2="725.50" stroke="#000" stroke-width="1.2"/>
<line x1="563.87" y1="725.50" x2="576.13" y2="725.50" stroke="#000" stroke-width="1.3"/>
<rect x="559.25" y="732.60" width="21.50" height="106.40" fill="#9afdfd" stroke="#111" stroke-width="1.3"/>
<line x1="570.00" y1="839.00" x2="570.00" y2="841.60" stroke="#000" stroke-width="1.3"/>
<text x="572.00" y="854.80" transform="rotate(-45 572.00 854.80)" text-anchor="end" font-size="11.8">6-OHDA Quin+Racl</text>
<line x1="603.00" y1="729.90" x2="603.00" y2="726.00" stroke="#000" stroke-width="1.2"/>
<line x1="596.87" y1="726.00" x2="609.13" y2="726.00" stroke="#000" stroke-width="1.3"/>
<rect x="592.25" y="729.90" width="21.50" height="109.10" fill="#fb2a0d" stroke="#111" stroke-width="1.3"/>
<line x1="603.00" y1="839.00" x2="603.00" y2="841.60" stroke="#000" stroke-width="1.3"/>
<text x="605.00" y="854.80" transform="rotate(-45 605.00 854.80)" text-anchor="end" font-size="11.8">6-OHDA SKF</text>
<line x1="414.50" y1="698.40" x2="414.50" y2="839.75" stroke="#000" stroke-width="1.5"/>
<line x1="413.75" y1="839.00" x2="625.00" y2="839.00" stroke="#000" stroke-width="1.5"/>
<line x1="411.90" y1="839.00" x2="414.50" y2="839.00" stroke="#000" stroke-width="1.3"/>
<text x="408.30" y="842.96" text-anchor="end" font-size="11.5">0</text>
<line x1="411.90" y1="795.07" x2="414.50" y2="795.07" stroke="#000" stroke-width="1.3"/>
<text x="408.30" y="799.02" text-anchor="end" font-size="11.5">5</text>
<line x1="411.90" y1="751.13" x2="414.50" y2="751.13" stroke="#000" stroke-width="1.3"/>
<text x="408.30" y="755.09" text-anchor="end" font-size="11.5">10</text>
<line x1="411.90" y1="707.20" x2="414.50" y2="707.20" stroke="#000" stroke-width="1.3"/>
<text x="408.30" y="711.16" text-anchor="end" font-size="11.5">15</text>
<line x1="453.00" y1="693.70" x2="453.00" y2="839.00" stroke="#000" stroke-width="1.5" stroke-dasharray="4,1.6"/>
<text x="388.90" y="767.45" transform="rotate(-90 388.90 767.45)" text-anchor="middle" font-size="12.4" textLength="134.5" lengthAdjust="spacingAndGlyphs">Paw withdrawal latency (s)</text>
<text x="469.70" y="736.60" text-anchor="middle" font-size="11">ns</text>
<text x="504.50" y="718.40" text-anchor="middle" font-size="11">ns</text>
<text x="536.50" y="699.70" text-anchor="middle" font-size="11.5">###</text>
<text x="570.20" y="717.30" text-anchor="middle" font-size="11">ns</text>
<text x="603.70" y="716.90" text-anchor="middle" font-size="11">ns</text>
<!-- ===== Panel A ===== -->
<text x="123.3" y="19.5" font-size="16.5">6-OHDA in MFB</text>
<g fill="none" stroke="#1c1c1c" stroke-width="0.75" stroke-linejoin="round" stroke-linecap="round">
  <!-- top outline -->
  <path d="M92,53.8 L94.6,53.3 C97,51 100,49.2 104,47.8 C110,45.7 118,44 128.8,43.1 C140,42.3 150,42 160,42.1 C164,42.2 168,42.6 170.4,43.1 C174,43.6 176.5,44.3 177.6,45.2 C179,46 179.4,47 179.6,48.2 C181,48 183,48 183.7,48.2 C186,49 188,50 189.9,50.3 C191,50.2 192,50 192.9,49.8 C194,48.8 196,47.6 198,47.2 C201,46.8 205,47.3 207.2,48.2 C209.5,49.2 211.2,50.2 212.3,51.3"/>
  <!-- left edge -->
  <path d="M94.6,53.3 C95,55 95.2,56 95.1,56.9 C95.6,59 96.2,61 96.6,62.5 C97.2,64 97.7,65.5 98.2,66.6 C99,68.5 99.8,70 100.7,71.2"/>
  <!-- bottom outline -->
  <path d="M92,89.6 C95,91 98,92.2 100.2,93.2 C103,95 105,96.8 107.4,98.3 C109.5,99.6 111.5,100.6 113.5,101.4 C116,102.6 118.5,103.8 120.7,104.4 C123,104.6 125.5,104 127.8,103.4 C131,103.6 135,104.5 140,105 C146,105.4 152,105.2 158,104.6"/>
  <!-- corpus callosum upper -->
  <path d="M118.4,71.8 C119.5,68 123,65.8 127,64.2 C132,62 137,60.4 142,58.8 C147,57.2 151.4,55.9 155,55 C158,54.4 161,54.2 163.5,55 C165.5,56 165,58 162.8,59 C160,59.4 157.5,58.8 155.8,58.6"/>
  <path d="M121,74 C126,70 132,66.5 138,64 C144,61.8 150,60.5 156,59.5 C160,59 163,59.6 165.3,61.5"/>
  <path d="M177.6,45.2 C176,48 175,50 174.5,51.3 C173,54 171.5,56 170.4,57.4 C168.5,59.5 167,60.5 165.3,61.5 C162,63.6 158,65 154,66"/>
  <!-- hippocampus curves -->
  <path d="M139,66 C143,64 148,62.5 153,62 C158,62 161,63.5 162,65.5 C160,67 156,67.5 152,67.5"/>
  <path d="M145,72 C150,70 156,69.5 160,70.5 C164,72 165,75 164,78"/>
  <path d="M146,82 C147,78 150,75 154,74 C158,74 161,76 162,79"/>
  <path d="M171.5,70.7 C173,68.5 174.5,67 176.6,65.6 C179,64 181,62.6 183.7,61.5 C186.5,60.4 189,59.5 190.9,58.4 C191.5,56 191.4,54.5 190.9,53.3 C190,51.5 189.5,50.8 189.9,50.3"/>
  <!-- tract lines to SN -->
  <path d="M160.2,71.7 C162,76 164,81 166,85 L168.4,89.1"/>
  <path d="M158.6,72.2 C160.5,76.5 162.5,81.5 164.5,86 L166.4,89.6"/>
  <!-- lower structures -->
  <path d="M135,78 C136,82 137,86 139,89.6 C140.5,91.5 141.5,92.5 141,94 C139.5,95 137.5,94 137,92 C136.5,90 137.5,88.5 139,89.6"/>
  <path d="M140.5,79 C142,83 143.5,87 144.5,90 C145.5,92 145,93 144.5,93.5"/>
  <path d="M148,84 C151,86.5 155,88.5 159,89.8 C162,90.6 165,91.5 166.5,92.8"/>
  <path d="M148,88 C151,90.5 155,92 159,93 C162,93.6 164,94.5 165,96"/>
  <!-- brainstem lines -->
  <path d="M175.5,95.2 C178,98 181,101.5 183.5,104.5 C184.5,106 185.5,107 185.8,108"/>
  <path d="M173,97 C175.5,100 178,103 180,105.5 C181,107 181.5,108 181.6,108.8"/>
  <path d="M170,99.5 C172,102 174,104.5 175,106.5"/>
  <path d="M185,104 C192,106 200,107 212,107.5"/>
  <!-- cerebellum folds -->
  <path d="M198,47.2 C200,50 201,54 200.5,58 C200,62 198.5,64 196,65"/>
  <path d="M202.5,48 C205,52 206,57 205,62 C204,67 202,70 199,72"/>
  <path d="M207.2,48.2 C209.5,52.5 210.5,58 209.5,64 C208.5,69 206,73 203,75.5"/>
  <path d="M196,54 C194.5,57 194.5,60 196,62.5"/>
  <path d="M201.5,66 C204,66.5 207,66 209.5,64.5"/>
  <path d="M199,72 C202,72.5 205,72 207.5,70"/>
  <path d="M212.6,50.5 L212.6,83.5" stroke="#b0b0b0"/>
  <circle cx="199" cy="90.1" r="1.6" stroke-dasharray="0.8,0.8"/>
</g>
<!-- black filled brain parts -->
<g fill="#111" stroke="none">
  <path d="M118.8,72.8 C119.2,69.8 121.5,67.8 125.5,66 C130,64 134.5,62.5 139,61.6 L142.5,61.2 C140,63.5 137,66 134,68.5 C130,71.5 126.5,74.5 122.5,76.4 C120.2,76.8 118.7,75.2 118.8,72.8 Z"/>
  <path d="M136.8,63.6 L144,61.2 C142.2,66 140.6,72 139.6,81.2 L138.3,81.2 C137.8,75 137.5,69 136.8,63.6 Z"/>
  <path d="M140.6,75.5 C143.2,72 146.6,69.3 150.6,67 L151.2,68 C147.6,70.4 144.2,73.6 141.4,77.8 Z"/>
  <path d="M144.2,61.6 L138.9,77.6" fill="none" stroke="#fff" stroke-width="0.8"/>
  <path d="M197.2,77.8 L206.8,76.4 C208.6,78.6 210.6,81 213,83.7 C209,82.6 204,81.9 199,82.1 Z"/>
  <path d="M194.9,62 C192.4,64.4 191.6,67.8 192.3,71 C193,74.2 194.8,76.8 197.8,78.8" fill="none" stroke="#111" stroke-width="1.7"/>
</g>
<!-- green: needle etc -->
<line x1="129.4" y1="26" x2="129.4" y2="95" stroke="#444" stroke-width="0.6"/>
<rect x="125.2" y="22.9" width="8.6" height="3.3" fill="#4fd861" stroke="#2f9a3c" stroke-width="0.5"/>
<rect x="128.2" y="45" width="3" height="28.8" fill="#45c552" stroke="#4a5aa0" stroke-width="0.5"/>
<text x="133.2" y="38.2" font-size="10.9" style="fill:#48cf58;stroke:#48cf58;stroke-width:0.1px">6-OHDA</text>
<text x="169.2" y="88" font-size="10.9" style="fill:#48cf58;stroke:#48cf58;stroke-width:0.1px">SN</text>
<text x="128.2" y="108.9" font-size="10.9" style="fill:#48cf58;stroke:#48cf58;stroke-width:0.1px">MFB</text>
<ellipse cx="171" cy="93.7" rx="6.1" ry="3.7" transform="rotate(-22 171 93.7)" fill="#45c552"/>
<path d="M166,96.5 C163,100 155,102 146.2,101.4 C138,100.5 130,97 120.7,91.5 L114,88" fill="none" stroke="#45c552" stroke-width="1.4"/>
<path d="M107.6,85 L115.8,85 L112,91.4 Z" fill="#45c552"/>

<!-- ===== Panel B ===== -->
<rect x="326" y="15" width="105" height="58" fill="#fdfdfd"/>
<text x="340.3" y="13.2" font-size="15.2">D2</text>
<text x="402.8" y="13.2" font-size="15.2">D1</text>
<rect x="326.9" y="37.1" width="99.3" height="13.2" fill="#97d8e0"/>
<path d="M328.40,38.3v5.1 M328.40,44.2v5.1 M331.50,38.3v5.1 M331.50,44.2v5.1 M334.60,38.3v5.1 M334.60,44.2v5.1 M337.70,38.3v5.1 M337.70,44.2v5.1 M340.80,38.3v5.1 M340.80,44.2v5.1 M343.90,38.3v5.1 M343.90,44.2v5.1 M347.00,38.3v5.1 M347.00,44.2v5.1 M350.10,38.3v5.1 M350.10,44.2v5.1 M353.20,38.3v5.1 M353.20,44.2v5.1 M356.30,38.3v5.1 M356.30,44.2v5.1 M359.40,38.3v5.1 M359.40,44.2v5.1 M362.50,38.3v5.1 M362.50,44.2v5.1 M365.60,38.3v5.1 M365.60,44.2v5.1 M368.70,38.3v5.1 M368.70,44.2v5.1 M371.80,38.3v5.1 M371.80,44.2v5.1 M374.90,38.3v5.1 M374.90,44.2v5.1 M378.00,38.3v5.1 M378.00,44.2v5.1 M381.10,38.3v5.1 M381.10,44.2v5.1 M384.20,38.3v5.1 M384.20,44.2v5.1 M387.30,38.3v5.1 M387.30,44.2v5.1 M390.40,38.3v5.1 M390.40,44.2v5.1 M393.50,38.3v5.1 M393.50,44.2v5.1 M396.60,38.3v5.1 M396.60,44.2v5.1 M399.70,38.3v5.1 M399.70,44.2v5.1 M402.80,38.3v5.1 M402.80,44.2v5.1 M405.90,38.3v5.1 M405.90,44.2v5.1 M409.00,38.3v5.1 M409.00,44.2v5.1 M412.10,38.3v5.1 M412.10,44.2v5.1 M415.20,38.3v5.1 M415.20,44.2v5.1 M418.30,38.3v5.1 M418.30,44.2v5.1 M421.40,38.3v5.1 M421.40,44.2v5.1 M424.50,38.3v5.1 M424.50,44.2v5.1" stroke="#e8f8fa" stroke-width="1.0" fill="none"/>
<g transform="translate(0,0)">
  <path d="M352.4,16.3 C355,16.2 357.5,17.5 359.8,19.5 C361.5,20.6 364,20.2 365.8,21.5 C367.5,23 367.2,25.5 365.4,26.6 L362.9,27.9" fill="none" stroke="#2b5a6a" stroke-width="1.05" stroke-linecap="round"/>
  <path d="M344.1,55.8 C342.3,57.5 341.6,59.5 342.2,61.8 C343,64.5 346,65 351.7,64.1 C355,63.6 358.5,63.6 360.2,64.5 C361.2,65.2 361.7,66 361.7,66.6" fill="none" stroke="#2b5a6a" stroke-width="1.05" stroke-linecap="round"/>
  <path d="M342.6,28 C343,25.5 344.8,24 347,24.1 C349,24.3 350.3,25.5 350.5,27.5 M350,27.5 C350.8,25.6 352.5,25 354,25.6 C355.3,26.2 356,27 356.2,28 M355.5,27.8 C356.5,25.7 358.5,25.4 360.2,26.2" fill="none" stroke="#2c5a72" stroke-width="1.6"/>
  <path d="M348.4,55.5 C348.4,58.2 349.8,59.6 351.6,59.4 C353.2,59.1 353.8,57.6 353.6,56 M355.8,55.5 C355.8,58 357.2,59.4 359,59.3 C360.6,59 361.2,57.8 361,56.2" fill="none" stroke="#2c5a72" stroke-width="1.5"/>
  <path d="M347.5,28.5 L352.5,28.5 L352.8,55.5 L347.8,55.5 Z" fill="#2c5a72"/>
  <path d="M354.8,29 L359.5,29 L359.3,55 L355,55 Z" fill="#2c5a72"/>
  <path d="M341.2,28.2 C341.2,27.4 342,27.2 343,27.2 L348.4,27.4 C349.2,27.4 349.6,28 349.5,28.8 L348.9,55.8 C348.9,56.6 348.2,57 347.4,57 L343.2,57 C342.4,57 341.9,56.5 341.9,55.8 Z" fill="#4a7d99"/>
  <path d="M350.8,29.2 C350.8,28.4 351.4,28 352.2,28 L355.8,28 C356.6,28 357,28.6 357,29.3 L356.8,56.4 C356.8,57.2 356.2,57.6 355.4,57.6 L352.2,57.6 C351.4,57.6 351,57.2 351,56.4 Z" fill="#548aa6"/>
  <path d="M357.2,28.4 C357.2,27.6 357.8,27.3 358.6,27.3 L364.2,27.4 C365,27.4 365.5,27.9 365.4,28.7 L364.7,55.2 C364.7,56 364.1,56.4 363.3,56.4 L359.2,56.4 C358.4,56.4 358,56 358,55.2 Z" fill="#4a7d99"/>
  <path d="M345.2,28 L345.6,56.5 M353.9,28.5 L353.9,57 M361,28 L361,56" stroke="#2c5a72" stroke-width="0.35" opacity="0.5"/>
</g>
<g transform="translate(45.5,0)">
  <path d="M352.4,16.3 C355,16.2 357.5,17.5 359.8,19.5 C361.5,20.6 364,20.2 365.8,21.5 C367.5,23 367.2,25.5 365.4,26.6 L362.9,27.9" fill="none" stroke="#c04e5c" stroke-width="1.05" stroke-linecap="round"/>
  <path d="M344.1,55.8 C342.3,57.5 341.6,59.5 342.2,61.8 C343,64.5 346,65 351.7,64.1 C355,63.6 358.5,63.6 360.2,64.5 C361.2,65.2 361.7,66 361.7,66.6" fill="none" stroke="#c04e5c" stroke-width="1.05" stroke-linecap="round"/>
  <path d="M342.6,28 C343,25.5 344.8,24 347,24.1 C349,24.3 350.3,25.5 350.5,27.5 M350,27.5 C350.8,25.6 352.5,25 354,25.6 C355.3,26.2 356,27 356.2,28 M355.5,27.8 C356.5,25.7 358.5,25.4 360.2,26.2" fill="none" stroke="#b04656" stroke-width="1.6"/>
  <path d="M348.4,55.5 C348.4,58.2 349.8,59.6 351.6,59.4 C353.2,59.1 353.8,57.6 353.6,56 M355.8,55.5 C355.8,58 357.2,59.4 359,59.3 C360.6,59 361.2,57.8 361,56.2" fill="none" stroke="#b04656" stroke-width="1.5"/>
  <path d="M347.5,28.5 L352.5,28.5 L352.8,55.5 L347.8,55.5 Z" fill="#b04656"/>
  <path d="M354.8,29 L359.5,29 L359.3,55 L355,55 Z" fill="#b04656"/>
  <path d="M341.2,28.2 C341.2,27.4 342,27.2 343,27.2 L348.4,27.4 C349.2,27.4 349.6,28 349.5,28.8 L348.9,55.8 C348.9,56.6 348.2,57 347.4,57 L343.2,57 C342.4,57 341.9,56.5 341.9,55.8 Z" fill="#d06270"/>
  <path d="M350.8,29.2 C350.8,28.4 351.4,28 352.2,28 L355.8,28 C356.6,28 357,28.6 357,29.3 L356.8,56.4 C356.8,57.2 356.2,57.6 355.4,57.6 L352.2,57.6 C351.4,57.6 351,57.2 351,56.4 Z" fill="#d96e7b"/>
  <path d="M357.2,28.4 C357.2,27.6 357.8,27.3 358.6,27.3 L364.2,27.4 C365,27.4 365.5,27.9 365.4,28.7 L364.7,55.2 C364.7,56 364.1,56.4 363.3,56.4 L359.2,56.4 C358.4,56.4 358,56 358,55.2 Z" fill="#d06270"/>
  <path d="M345.2,28 L345.6,56.5 M353.9,28.5 L353.9,57 M361,28 L361,56" stroke="#b04656" stroke-width="0.35" opacity="0.5"/>
</g>
<line x1="387.4" y1="69.9" x2="425.5" y2="69.9" stroke="#4a4a4a" stroke-width="1.3"/>
<line x1="425" y1="69.9" x2="427" y2="69.9" stroke="#3060d0" stroke-width="1.3"/>
<!-- syringe -->
<g stroke-linecap="round">
  <line x1="465.1" y1="23.6" x2="429.6" y2="74.2" stroke="#9a9a9a" stroke-width="3.4"/>
  <line x1="465.1" y1="23.6" x2="429.6" y2="74.2" stroke="#ffffff" stroke-width="2.2"/>
  <line x1="442.5" y1="56" x2="430.2" y2="73.4" stroke="#c6eef8" stroke-width="2.2"/>
  <line x1="462.5" y1="21.8" x2="467.8" y2="25.4" stroke="#9a9a9a" stroke-width="1.2"/>
  <line x1="449.5" y1="40.5" x2="455" y2="44.4" stroke="#9a9a9a" stroke-width="1.1"/>
  <line x1="441" y1="56.8" x2="444" y2="58.8" stroke="#333" stroke-width="1.0"/>
  <line x1="429.8" y1="74" x2="427.2" y2="77.6" stroke="#3bb07a" stroke-width="2.3"/>
  <line x1="427.2" y1="77.6" x2="420.5" y2="88.2" stroke="#333" stroke-width="0.6"/>
</g>
<!-- mouse -->
<g>
  <path d="M432.2,99 C436,99.6 440,101 442.8,103.5 C445,106 445.2,109.5 442.5,112 C438,113.8 432,113.4 427.3,113.1 C419,112.6 410,112 402.8,111.4" fill="none" stroke="#d0d0d0" stroke-width="1.9" stroke-linecap="round"/>
  <path d="M370.3,88 C371,86 373,83.8 375.8,82.4 C378,81.2 381,80.6 384.4,80.6 C387.5,80.8 391,81.8 394.2,82.4 C401,82.6 408,82.8 415,83.6 C419,84.3 422.5,85.3 424.9,86.7 C428,88.6 430,90.6 431,92.8 C432.3,95 433,97 432.8,99 C432.6,101 432,102.6 431,103.9 C430,105.5 429,106.8 427.3,107.6 C424,108.3 419,108.4 415,108.2 C411,107.6 407,106.6 402.8,105.1 C398.5,104 394.5,103.3 390.5,102.7 L387.5,104.8 C385.5,106.5 383,107.3 379.5,107.2 C378,107 378.2,106.2 379.5,105.4 C381.5,104 383,102 384.4,98.4 C381,96.8 377,95.2 373.4,92.8 C371.6,91.4 370.5,89.8 370.3,88 Z" fill="#ededed" stroke="#d6d6d6" stroke-width="0.5"/>
  <path d="M384.2,80.8 C384.3,79 385.6,78 387.2,78.1 C389,78.3 390.2,79.6 389.9,81.4 C388.3,82 386,81.8 384.2,80.8 Z" fill="#e2e2e2" stroke="#cfcfcf" stroke-width="0.4"/>
  <path d="M377.2,85.6 C377.8,83.6 380.5,82.8 384,82.9 C388,83 391.5,83.4 394,84.6 C395,85.8 394.5,87.6 392.5,88.2 C389,88.9 384.5,88.8 381,88.4 C378.6,88 377,87 377.2,85.6 Z" fill="#dfa7a3"/>
  <path d="M394,84.6 C401,84.2 409,84.4 415,85.2 C420,86.2 423.5,88 426,90.6 C428,92.8 429.3,94.8 429.8,96.5" fill="none" stroke="#d9807c" stroke-width="0.9"/>
  <path d="M394,86.4 C401,86.2 408.5,86.4 414.5,87.2 C419.5,88.2 422.8,90 425,92.4 C426.8,94.4 428.2,96 429.6,97.6" fill="none" stroke="#3a62c4" stroke-width="1"/>
  <path d="M411.4,88.4 C412.5,90.5 413.6,92.8 415,94.6 C418,96 422,96.8 426.1,97.8 M413.8,88.6 C414.2,90.6 415,92 416.4,93 M415,94.6 C414.5,95.8 414.8,96.6 415.6,97" fill="none" stroke="#e5d27a" stroke-width="0.6"/>
</g>
<text x="466.2" y="18.4" font-size="16.3">Intrathecal injection of</text>
<text x="467.2" y="38.5" font-size="16.3">D1 or D2 modulators</text>

<!-- ===== Panel C cylinder ===== -->
<text x="88.2" y="150.2" font-size="13.5">Cylinder test</text>
<g fill="none" stroke="#7e8ad4" stroke-width="0.65">
  <path d="M172.2,125.4 A17.55,4.5 0 0 1 207.3,125.4"/>
  <path d="M172.2,125.4 A17.55,4.5 0 0 0 207.3,125.4" stroke="#a3abe0" stroke-dasharray="1.2,0.6"/>
  <line x1="172.2" y1="125.4" x2="172.2" y2="164.2"/>
  <line x1="207.3" y1="125.4" x2="207.3" y2="164.2"/>
  <path d="M172.2,164.2 A17.55,4.5 0 0 0 207.3,164.2" stroke-dasharray="1.6,0.6"/>
  <path d="M172.2,164.2 A17.55,4.5 0 0 1 207.3,164.2" stroke="#b8bfe8"/>
</g>
<path d="M174.1,140.8 C174.6,140.2 175.5,140.4 176.3,141 L179.2,142.6 C180,142.2 180.5,143 179.9,144 C181.5,146.5 182.8,150 183.6,153.5 C184.4,156 185.2,157.5 186,158.3 C190,160.3 195,161.4 199.8,162.2 C195,162.3 190,161.8 186,160.4 C184.8,160.6 183.6,161.2 182.6,161.6 C182.5,162.3 182.6,162.9 182.5,163.4 L178.9,163.9 C178.5,163.4 179,163 179.8,162.6 C179.6,161 179.3,159.5 179.1,158.5 C178,156.5 177.4,154.5 177.3,152.5 C177,151 176.8,150.4 176.4,150.2 L173.2,150.8 L173.1,150 L175.6,149.1 C175.6,147.5 175.8,146 176,145 C175.2,143.5 174.5,142.2 174.1,140.8 Z" fill="#000"/>

<!-- ===== Rats ===== -->
<defs>
<g id="hooktail">
  <path d="M202,360 C207,360.8 213,361.2 218,361.9 C222,362.4 225,363.6 225.4,365.8 C225.6,367.8 224,369.4 222.3,369.4 C221.8,368.5 222.4,367.6 222.2,366.5 C221.5,365 219,364.6 216,364.4 C211,364 206,363.6 202,363.2 Z" fill="#b9b9b9" stroke="#a0a0a0" stroke-width="0.3"/>
</g>
<g id="looptail">
  <path d="M201.6,360.3 C206,360.6 211,361.6 215.2,362.8 C219,363.6 223,364.6 225.2,366.3 C226.6,367.6 225.6,369.2 223,369.5 C216,369.9 208,369.6 200.3,369.6" fill="none" stroke="#b0b0b0" stroke-width="2.5" stroke-linecap="butt"/>
  <path d="M200.5,359.2 C203,359.3 205,359.6 207,360.2 L207,362.5 C205,363.5 203,364 200.5,364 Z" fill="#b0b0b0"/>
</g>
<g id="rat">
  <path d="M140,353.4 C141,351 142.5,349.8 143.7,349.1 C146,347 148.5,345.5 151,344.7 L156,342.8 C160,341.5 163,341.5 165.6,341.8 C169,340 172,339.2 175.8,339.1 C181,339 185,339.8 187.5,341 C191,343 193,345 194.8,347.6 C197,351 199,354 200.6,356.4 C202,358 203,359 203.5,360.2 C202.5,361.6 200,362.4 196,362.8 L191.9,363 L175.8,363.7 C170,363.5 165,363 161,362.5 L153.9,360.7 C150,359.5 146,358 142.2,355.6 C141,355 140.3,354.3 140,353.4 Z" fill="#f1f1f1" stroke="#8e8e8e" stroke-width="0.5"/>
  <path d="M156.2,343.8 C156.4,341.8 158,340.9 159.8,341.2 C162,341.7 162.8,344 162.3,346.5 C161.8,349 160.3,350.4 158.6,350.3 C156.8,349.8 156,347 156.2,343.8 Z" fill="#aaaaaa" stroke="#909090" stroke-width="0.3"/>
  <ellipse cx="150.2" cy="349.4" rx="1.3" ry="0.9" fill="#444"/>
  <path d="M174.3,362.4 L191.9,362.2 L192.5,364.6 L174.8,364.8 Z" fill="#a9a9a9"/>
  <path d="M149.5,361.6 L158,361.2 L161.2,363 L158,364.6 L150.5,364.3 C149,363.8 148.6,362.5 149.5,361.6 Z" fill="#a9a9a9"/>
  <path d="M143,350 C140,348.5 137.5,347.5 135.8,347 M142.5,351.5 C140,351 137.5,351 135.5,351.5 M142.8,352.5 C140.5,353.5 138.5,354.5 137,355.5" stroke="#c8c8c8" stroke-width="0.3" fill="none"/>
  <path d="M163,351 C164,354 164.5,357 164,360 M181,353 C182,356 182.5,359 181.8,362" stroke="#c0c0c0" stroke-width="0.35" fill="none"/>
  <path d="M143,355 C146,356.5 149,357 151,356.8" stroke="#a8a8a8" stroke-width="0.35" fill="none"/>
</g>
</defs>
<!-- F -->
<use href="#hooktail"/><use href="#rat"/>
<path d="M186.6,364.8 C186,368 187,372 186.8,378" stroke="#d8c070" stroke-width="0.5" fill="none"/>
<rect x="189.4" y="380.2" width="31.8" height="3.3" fill="#d98061"/>
<rect x="185" y="377.2" width="4.9" height="16" rx="2.2" fill="#efefef" stroke="#b0b0b0" stroke-width="0.5"/>
<!-- G -->
<use href="#hooktail" transform="translate(699.5,1) scale(-1,1)"/><use href="#rat" transform="translate(699.5,1) scale(-1,1)"/>
<path d="M512.6,365.5 C513.2,369 512.2,373 512.4,379" stroke="#d8c070" stroke-width="0.5" fill="none"/>
<rect x="478.9" y="380.8" width="31.8" height="3.3" fill="#d98061"/>
<rect x="509.8" y="378.2" width="4.9" height="16" rx="2.2" fill="#efefef" stroke="#b0b0b0" stroke-width="0.5"/>
<!-- H -->
<use href="#looptail" transform="translate(-0.8,294.5)"/><use href="#rat" transform="translate(-0.8,294.5)"/>
<path d="M185.1,659.6 C186.8,661.5 187.8,664 187.2,666.5 C186.8,668 186,668.8 185,669 L182.2,669 C181,668.4 180.8,666.8 181.4,665.2 C182.2,663.2 184,661.8 185.1,659.6 Z" fill="#e8341c"/>
<path d="M184.8,663 C185.8,664.5 186.2,666.2 185.6,667.8 C185.2,668.6 184.4,668.9 183.6,668.9 C182.6,668.6 182.4,667.4 182.9,666.2 C183.4,665 184.3,664.2 184.8,663 Z" fill="#f2ee3a"/>
<rect x="177.9" y="670.5" width="10" height="15" fill="#fff" stroke="#000" stroke-width="1.5"/>
<!-- I -->
<use href="#looptail" transform="translate(696.9,295.2) scale(-1,1)"/><use href="#rat" transform="translate(696.9,295.2) scale(-1,1)"/>
<path d="M512.2,661.8 C510.5,663.7 509.8,666.2 510.4,668.7 C510.8,670.2 511.6,671 512.6,671.2 L515.4,671.2 C516.6,670.6 516.8,669 516.2,667.4 C515.4,665.4 513.4,664 512.2,661.8 Z" fill="#e8341c"/>
<path d="M512.6,665.2 C511.6,666.7 511.2,668.4 511.8,670 C512.2,670.8 513,671.1 513.8,671.1 C514.8,670.8 515,669.6 514.5,668.4 C514,667.2 513.1,666.4 512.6,665.2 Z" fill="#f2ee3a"/>
<rect x="510.3" y="672.6" width="9.6" height="14.4" fill="#fff" stroke="#000" stroke-width="1.5"/>

</svg>
</body></html>
